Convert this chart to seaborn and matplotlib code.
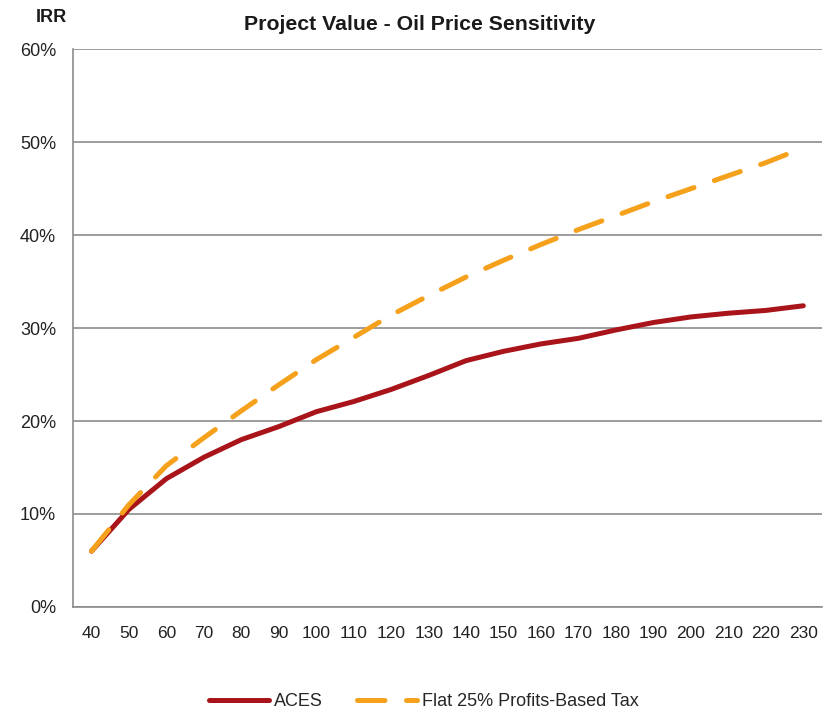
import numpy as np
import pandas as pd
import matplotlib
matplotlib.use("Agg")
import matplotlib.pyplot as plt
import seaborn as sns

sns.set_style("white")
plt.rcParams['font.family'] = ['Liberation Sans', 'DejaVu Sans']

oil_price = [40, 50, 60, 70, 80, 90, 100, 110, 120, 130, 140, 150, 160, 170, 180, 190, 200, 210, 220, 230]
aces = [6.0, 10.5, 13.8, 16.1, 18.0, 19.4, 21.0, 22.1, 23.4, 24.9, 26.5, 27.5, 28.3, 28.9, 29.8,
        30.6, 31.2, 31.6, 31.9, 32.4]
flat_tax = [6.0, 11.0, 15.2, 18.2, 21.1, 23.9, 26.6, 29.0, 31.4, 33.5, 35.5, 37.3, 39.0, 40.6, 42.1,
            43.6, 45.0, 46.4, 47.8, 49.4]
series_names = ['ACES', 'Flat 25% Profits-Based Tax']

df = pd.DataFrame({
    'price': oil_price * 2,
    'irr': aces + flat_tax,
    'series': [series_names[0]] * len(aces) + [series_names[1]] * len(flat_tax),
})

fig = plt.figure(figsize=(8.27, 7.14), dpi=100)
ax = fig.add_axes([0.088, 0.15, 0.906, 0.781])

sns.lineplot(data=df, x='price', y='irr', hue='series', style='series',
             palette={series_names[0]: '#A81419', series_names[1]: '#F5A11C'},
             dashes={series_names[0]: '', series_names[1]: (5.5, 4.3)},
             linewidth=3.6, ax=ax, legend=False)
for ln in ax.lines:
    ln.set_dash_capstyle('round')
    ln.set_solid_capstyle('round')

ax.set_xlim(35, 235)
ax.set_ylim(0, 60)
ax.set_xticks(oil_price)
ax.set_xticklabels([str(p) for p in oil_price])
ax.set_xticks(np.arange(35, 236, 10), minor=True)
ax.tick_params(axis='x', which='major', length=0, pad=14, labelsize=12.5, labelcolor='#222222')
ax.tick_params(axis='x', which='minor', length=6, width=1.2, color='#8c8c8c', direction='out')
ax.set_yticks(range(0, 61, 10))
ax.set_yticklabels([f'{v}%' for v in range(0, 61, 10)])
ax.tick_params(axis='y', length=7, width=1.2, color='#8c8c8c', direction='out', labelsize=13,
               labelcolor='#222222', pad=5)

ax.yaxis.grid(True, color='#8c8c8c', linewidth=1.2)
ax.set_axisbelow(True)
for s in ['top', 'right']:
    ax.spines[s].set_visible(False)
for s in ['left', 'bottom']:
    ax.spines[s].set_color('#8c8c8c')
    ax.spines[s].set_linewidth(1.2)

ax.set_xlabel('')
ax.set_ylabel('')
fig.text(0.507, 0.966, 'Project Value - Oil Price Sensitivity', fontsize=15.3, fontweight='bold',
         ha='center', va='center', color='#1a1a1a')
fig.text(0.062, 0.975, 'IRR', fontsize=13, fontweight='bold', ha='center', va='center',
         color='#1a1a1a')

handles = [plt.Line2D([], [], color='#A81419', linewidth=3.6, solid_capstyle='round'),
           plt.Line2D([], [], color='#F5A11C', linewidth=3.6, dashes=(5.5, 4.3),
                      dash_capstyle='round')]
fig.legend(handles, series_names, loc='center', bbox_to_anchor=(0.513, 0.017), ncol=2,
           frameon=False, fontsize=13, handlelength=3.3, columnspacing=1.9, handletextpad=0.3)

fig.savefig('out.png', dpi=100)
